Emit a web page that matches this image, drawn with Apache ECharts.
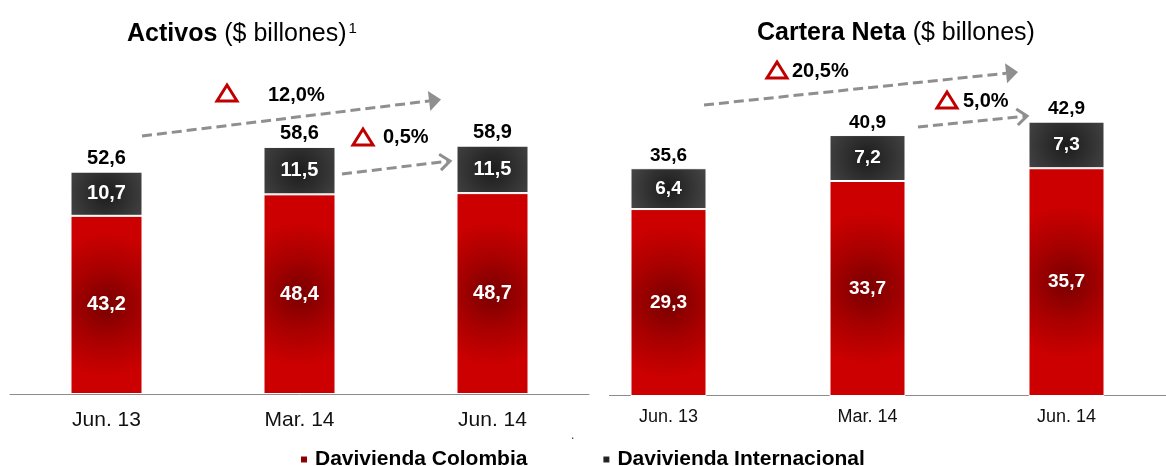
<!DOCTYPE html>
<html>
<head>
<meta charset="utf-8">
<script src="https://cdn.jsdelivr.net/npm/echarts@6/dist/echarts.min.js"></script>
<style>
  html, body { margin: 0; padding: 0; background: #fff; }
  #chart { width: 1166px; height: 466px; }
</style>
</head>
<body>
<div id="chart"></div>
<script>
// datos
const periodos = ["Jun. 13", "Mar. 14", "Jun. 14"];
const activosColombia = [43.2, 48.4, 48.7];
const activosInternacional = [10.7, 11.5, 11.5];
const activosTotal = [52.6, 58.6, 58.9];
const carteraColombia = [29.3, 33.7, 35.7];
const carteraInternacional = [6.4, 7.2, 7.3];
const carteraTotal = [35.6, 40.9, 42.9];
const activosVariacion = ["12,0%", "0,5%"];
const carteraVariacion = ["20,5%", "5,0%"];

const FONT = "Liberation Sans, Arial, sans-serif";
const fmt = (v) => v.toFixed(1).replace(".", ",");

const rojo = {
  type: "radial", x: 0.5, y: 0.5, r: 1,
  colorStops: [
    { offset: 0, color: "#780000" },
    { offset: 0.5, color: "#a80000" },
    { offset: 1, color: "#cc0000" },
  ],
};
const gris = {
  type: "radial", x: 0.5, y: 0.5, r: 1,
  colorStops: [
    { offset: 0, color: "#1c1c1c" },
    { offset: 1, color: "#454545" },
  ],
};

function serie(nombre, data, color, idx, fontSize, width) {
  return {
    name: nombre,
    type: "bar",
    stack: "s" + idx,
    xAxisIndex: idx,
    yAxisIndex: idx,
    barWidth: width,
    data: data,
    itemStyle: { color: color, borderColor: "#fff", borderWidth: 1 },
    label: {
      show: true,
      position: "inside",
      color: "#fff",
      fontFamily: FONT,
      fontWeight: "bold",
      fontSize: fontSize,
      formatter: (p) => fmt(p.value),
    },
  };
}

// barra vacia encima de la pila, solo para la etiqueta del total
function totales(tot, idx, fontSize, width) {
  return {
    name: "Total",
    type: "bar",
    stack: "s" + idx,
    xAxisIndex: idx,
    yAxisIndex: idx,
    barWidth: width,
    silent: true,
    data: tot.map(() => 0),
    itemStyle: { color: "rgba(0,0,0,0)" },
    label: {
      show: true,
      position: "top",
      distance: 3,
      color: "#000",
      fontFamily: FONT,
      fontWeight: "bold",
      fontSize: fontSize,
      formatter: (p) => fmt(tot[p.dataIndex]),
    },
  };
}

// flecha punteada con punta llena u abierta
function flecha(x1, y1, x2, y2, llena) {
  const dx = x2 - x1, dy = y2 - y1;
  const len = Math.sqrt(dx * dx + dy * dy);
  const ux = dx / len, uy = dy / len;
  const px = -uy, py = ux;
  const largo = llena ? 12 : 10;
  const ancho = llena ? 10 : 8;
  const bx = x2 - ux * largo, by = y2 - uy * largo;
  const out = [{
    type: "line",
    shape: { x1: x1, y1: y1, x2: llena ? bx : x2 - ux * 2, y2: llena ? by : y2 - uy * 2 },
    style: { stroke: "#8f8f8f", lineWidth: 3, lineDash: [10, 5] },
  }];
  const pts = [[bx + px * ancho, by + py * ancho], [x2, y2], [bx - px * ancho, by - py * ancho]];
  if (llena) {
    out.push({ type: "polygon", shape: { points: pts }, style: { fill: "#8f8f8f" } });
  } else {
    out.push({ type: "polyline", shape: { points: pts }, style: { stroke: "#8f8f8f", lineWidth: 3, fill: null } });
  }
  return out;
}

function delta(cx, cy) {
  return {
    type: "polygon",
    shape: { points: [[cx, cy - 8], [cx + 10, cy + 8], [cx - 10, cy + 8]] },
    style: { stroke: "#c00000", lineWidth: 3, fill: null, lineJoin: "miter" },
  };
}

function texto(x, y, t) {
  return {
    type: "text",
    style: { x: x, y: y, text: t, font: "bold 20px " + FONT, fill: "#000", verticalAlign: "middle" },
  };
}

const chart = echarts.init(document.getElementById("chart"));

const option = {
  animation: false,
  backgroundColor: "#fff",
  title: [
    {
      text: "{b|Activos} ($ billones){s|1}",
      left: 122,
      top: 16,
      textStyle: {
        fontFamily: FONT, fontSize: 25, fontWeight: "normal", color: "#000",
        rich: {
          b: { fontFamily: FONT, fontSize: 25, fontWeight: "bold", color: "#000" },
          s: { fontFamily: FONT, fontSize: 15, color: "#000", verticalAlign: "top", padding: [0, 0, 12, 2] },
        },
      },
    },
    {
      text: "{b|Cartera Neta} ($ billones)",
      left: 752,
      top: 16,
      textStyle: {
        fontFamily: FONT, fontSize: 25, fontWeight: "normal", color: "#000",
        rich: {
          b: { fontFamily: FONT, fontSize: 25, fontWeight: "bold", color: "#000" },
        },
      },
    },
  ],
  legend: {
    data: ["Davivienda Colombia", "Davivienda Internacional"],
    left: 294,
    top: 444,
    icon: "rect",
    itemWidth: 8,
    itemHeight: 8,
    itemGap: 74,
    textStyle: { fontFamily: FONT, fontSize: 21, fontWeight: "bold", color: "#000", padding: [0, 0, 0, 2] },
  },
  grid: [
    { left: 10, right: 577, top: 64, bottom: 72 },
    { left: 569, right: -11, top: 77, bottom: 70 },
  ],
  xAxis: [
    {
      type: "category", gridIndex: 0, data: periodos,
      axisLine: { lineStyle: { color: "#8c8c8c", width: 1 } },
      axisTick: { show: false },
      axisLabel: { fontFamily: FONT, fontSize: 21, color: "#111", margin: 16 },
    },
    {
      type: "category", gridIndex: 1, data: periodos,
      axisLine: { show: false },
      axisTick: { show: false },
      axisLabel: { fontFamily: FONT, fontSize: 18, color: "#111", margin: 12 },
    },
  ],
  yAxis: [
    { type: "value", gridIndex: 0, min: 0, max: 80, show: false, splitLine: { show: false } },
    { type: "value", gridIndex: 1, min: 0, max: 50, show: false, splitLine: { show: false } },
  ],
  series: [
    serie("Davivienda Colombia", activosColombia, rojo, 0, 20, 72),
    serie("Davivienda Internacional", activosInternacional, gris, 0, 20, 72),
    totales(activosTotal, 0, 20, 72),
    serie("Davivienda Colombia", carteraColombia, rojo, 1, 19, 76),
    serie("Davivienda Internacional", carteraInternacional, gris, 1, 19, 76),
    totales(carteraTotal, 1, 19, 76),
  ],
  graphic: [
    // eje del panel derecho
    { type: "line", shape: { x1: 609, y1: 395.5, x2: 1166, y2: 395.5 }, style: { stroke: "#8c8c8c", lineWidth: 1 } },
    ...flecha(142, 136, 441, 99.5, true),
    ...flecha(342, 174, 450, 161, false),
    ...flecha(704, 105, 1018, 72, true),
    ...flecha(918, 127, 1027, 116, false),
    delta(227, 93),
    delta(363, 137),
    delta(777, 70),
    delta(947, 100),
    texto(268, 95, activosVariacion[0]),
    texto(383, 137, activosVariacion[1]),
    texto(792, 71, carteraVariacion[0]),
    texto(963, 101, carteraVariacion[1]),
    { type: "text", style: { x: 571, y: 430, text: ".", font: "12px " + FONT, fill: "#333" } },
  ],
};

chart.setOption(option);
</script>
</body>
</html>
